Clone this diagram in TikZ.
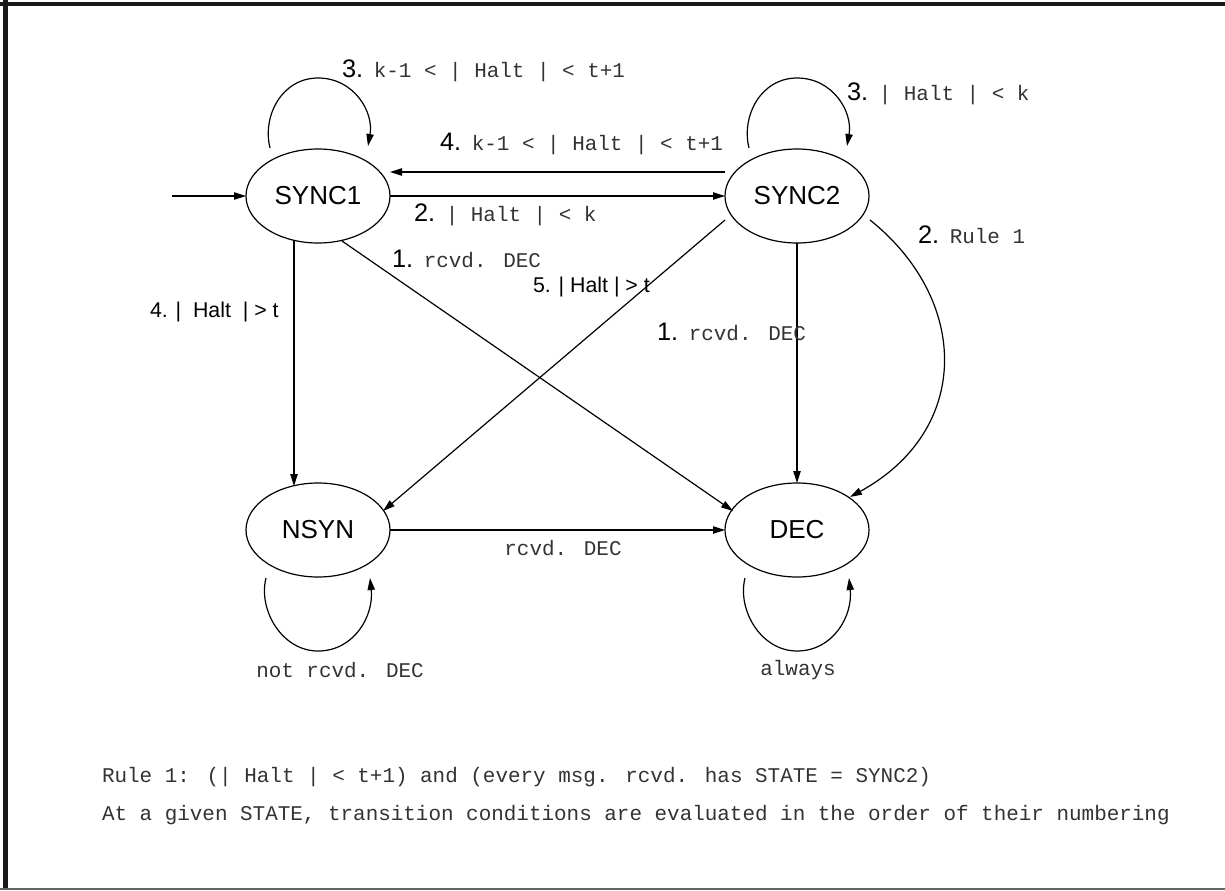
\documentclass[tikz,border=0pt]{standalone}
\usepackage{fontspec}
\setmainfont{Liberation Sans}
\newfontfamily\monof{Liberation Mono}
\usetikzlibrary{arrows.meta,shapes.geometric}
\newcommand{\bignum}[1]{{\fontsize{19}{22}\selectfont #1}}
\newcommand{\mtxt}[1]{{\monof\fontsize{15.7}{18}\selectfont\color{black!80}#1}}
\begin{document}
\begin{tikzpicture}[x=0.75pt,y=-0.75pt,
  state/.style={draw,ellipse,line width=0.9pt,minimum width=108pt,minimum height=70.5pt,inner sep=0pt,outer sep=0pt,font=\fontsize{19.5}{22}\selectfont},
  edge/.style={line width=0.9pt,-{Triangle[length=9pt,width=5.5pt]}},
  lab/.style={anchor=base west,inner sep=0pt,outer sep=0pt},
  clab/.style={anchor=center,inner sep=0pt,outer sep=0pt},
  small/.style={font=\fontsize{16}{19}\selectfont}]
\useasboundingbox (0,0) rectangle (1225,890);
% frame
\fill[black!90] (0,1.5) rectangle (1225,5.5);
\fill[black!90] (3,0) rectangle (7.5,890);
\fill[black!60] (0,887.5) rectangle (1225,890);
% states
\node[state] (S1) at (318,196) {SYNC1};
\node[state] (S2) at (797,196) {SYNC2};
\node[state] (N) at (318,530) {NSYN};
\node[state] (D) at (797,530) {DEC};
\coordinate (start) at (172,196);
% edges
\draw[edge] (start) -- (S1.west);
\draw[edge] (S1.east) -- (S2.west);
\draw[edge] ([shift={(-72,-24)}]S2.center) -- ([shift={(72,-24)}]S1.center);
\draw[edge] ([shift={(-24,45)}]S1.center) -- ([shift={(-24,-44)}]N.center);
\draw[edge] ([shift={(24,45)}]S1.center) -- ([shift={(-64,-19)}]D.center);
\draw[edge] ([shift={(-72,24)}]S2.center) -- ([shift={(65,-19)}]N.center);
\draw[edge] (S2.south) -- (D.north);
\draw[edge] ([shift={(73,24)}]S2.center) .. controls (970,300) and (972,430) .. ([shift={(53,-33)}]D.center);
\draw[edge] (N.east) -- (D.west);
% self loops
\draw[edge] ([shift={(-48,-48)}]S1.center) .. controls ([shift={(-56,-80)}]S1.center) and ([shift={(-36,-118)}]S1.center) .. ([shift={(0,-118)}]S1.center) .. controls ([shift={(36,-118)}]S1.center) and ([shift={(56,-84)}]S1.center) .. ([shift={(50,-50)}]S1.center);
\draw[edge] ([shift={(-48,-48)}]S2.center) .. controls ([shift={(-56,-80)}]S2.center) and ([shift={(-36,-118)}]S2.center) .. ([shift={(0,-118)}]S2.center) .. controls ([shift={(36,-118)}]S2.center) and ([shift={(56,-84)}]S2.center) .. ([shift={(50,-50)}]S2.center);
\draw[edge] ([shift={(-52,48)}]N.center) .. controls ([shift={(-60,80)}]N.center) and ([shift={(-36,121)}]N.center) .. ([shift={(0,121)}]N.center) .. controls ([shift={(36,121)}]N.center) and ([shift={(56,86)}]N.center) .. ([shift={(52,48)}]N.center);
\draw[edge] ([shift={(-52,48)}]D.center) .. controls ([shift={(-60,80)}]D.center) and ([shift={(-36,121)}]D.center) .. ([shift={(0,121)}]D.center) .. controls ([shift={(36,121)}]D.center) and ([shift={(56,86)}]D.center) .. ([shift={(52,48)}]D.center);
% labels
\node[lab] (l1) at (342,77) {\bignum{3.}\hspace{8pt}\mtxt{k-1 < | Halt | < t+1}};
\node[lab] (l2) at (440,150) {\bignum{4.}\hspace{8pt}\mtxt{k-1 < | Halt | < t+1}};
\node[lab] (l3) at (847,100) {\bignum{3.}\hspace{8pt}\mtxt{| Halt | < k}};
\node[lab] (l4) at (414,221) {\bignum{2.}\hspace{8pt}\mtxt{| Halt | < k}};
\node[lab] (l5) at (392,267) {\bignum{1.}\hspace{8pt}\mtxt{rcvd. DEC}};
\node[lab,small] (l6) at (533,292) {5. | Halt | > t};
\node[lab,small] (l7) at (150,317) {4. |\ \ Halt \ | > t};
\node[lab] (l8) at (918,243) {\bignum{2.}\hspace{8pt}\mtxt{Rule 1}};
\node[lab] (l9) at (657,340) {\bignum{1.}\hspace{8pt}\mtxt{rcvd. DEC}};
\node[clab] (l10) at (563,548) {\mtxt{rcvd. DEC}};
\node[clab] (l11) at (340,670) {\mtxt{not rcvd. DEC}};
\node[clab] (l12) at (798,670) {\mtxt{always}};
\node[lab] (r1) at (102,782) {\mtxt{Rule 1: (| Halt | < t+1) and (every msg. rcvd. has STATE = SYNC2)}};
\node[lab] (r2) at (102,820) {\mtxt{At a given STATE, transition conditions are evaluated in the order of their numbering}};
\end{tikzpicture}
\end{document}
